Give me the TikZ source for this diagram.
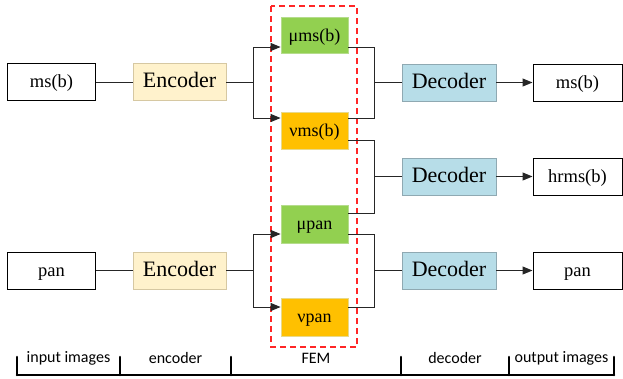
\documentclass[tikz,border=0pt]{standalone}
\usepackage{fontspec}
\setmainfont{Liberation Serif}
\newfontfamily\labfont{Carlito}
\usetikzlibrary{calc,arrows.meta}
\definecolor{encfill}{HTML}{FFF2CC}
\definecolor{encdraw}{HTML}{D6C8A2}
\definecolor{decfill}{HTML}{B7DDE8}
\definecolor{decdraw}{HTML}{8FA9B2}
\definecolor{mufill}{HTML}{92D050}
\definecolor{mudraw}{HTML}{B5DC8C}
\definecolor{nufill}{HTML}{FFC000}
\definecolor{nudraw}{HTML}{E8D98A}
\begin{document}
\begin{tikzpicture}[x=1pt,y=-1pt,
  txt/.style={inner sep=0pt,text height=14pt,text depth=3pt},
  imgbox/.style={txt,draw=black,line width=1pt,fill=white,minimum width=88pt,minimum height=37pt,font=\fontsize{18.5}{20}\selectfont},
  encbox/.style={txt,draw=encdraw,line width=0.8pt,fill=encfill,minimum width=93pt,minimum height=37pt,font=\fontsize{22}{24}\selectfont},
  decbox/.style={txt,draw=decdraw,line width=0.8pt,fill=decfill,minimum width=94pt,minimum height=37pt,font=\fontsize{22}{24}\selectfont},
  mubox/.style={txt,draw=mudraw,line width=0.8pt,fill=mufill,minimum width=67pt,minimum height=36pt,font=\fontsize{18}{20}\selectfont},
  nubox/.style={txt,draw=nudraw,line width=0.8pt,fill=nufill,minimum width=67pt,minimum height=37pt,font=\fontsize{18}{20}\selectfont},
  conn/.style={line width=1pt,draw=black!85},
  arr/.style={conn,-{Triangle[length=10pt,width=8pt]}},
  fem/.style={draw=red!85,line width=1.2pt,dash pattern=on 6pt off 4pt},
  barline/.style={line width=2.6pt,line cap=round},
  lab/.style={font=\labfont\fontsize{16}{18}\selectfont}
]
\useasboundingbox (0,0) rectangle (623,378);

% FEM frame
\draw[fem] (271,6) rectangle (357,347);

% nodes
\node[imgbox] (in1) at (51.5,82) {ms(b)};
\node[encbox] (enc1) at (179.5,82) {Encoder};
\node[imgbox] (in2) at (51.5,270.5) {pan};
\node[encbox] (enc2) at (179.5,270.5) {Encoder};

\node[mubox] (mu1) at (314.5,35.5) {μms(b)};
\node[nubox] (nu1) at (314.5,130.5) {νms(b)};
\node[mubox,minimum height=38pt] (mu2) at (314.5,224) {μpan};
\node[nubox,minimum height=38pt] (nu2) at (314.5,317) {νpan};

\node[decbox] (dec1) at (449,82.5) {Decoder};
\node[decbox] (dec2) at (449,176.5) {Decoder};
\node[decbox] (dec3) at (449,270.5) {Decoder};

\node[imgbox,minimum width=89pt] (out1) at (577.5,82.5) {ms(b)};
\node[imgbox,minimum width=89pt] (out2) at (577.5,176.5) {hrms(b)};
\node[imgbox,minimum width=89pt] (out3) at (577.5,270.5) {pan};

% junction coordinates
\coordinate (j1) at (253,82);
\coordinate (j2) at (253,270.5);
\coordinate (k1) at (374,82.5);
\coordinate (k2) at (374,176.5);
\coordinate (k3) at (374,270.5);

% left connectors
\draw[conn] (in1) -- (enc1);
\draw[conn] (in2) -- (enc2);
\draw[conn] (enc1.east) -- (j1);
\draw[conn] (enc2.east) -- (j2);
\draw[arr] (j1) |- ($(mu1.west)+(0,11.5)$);
\draw[arr] (j1) |- ($(nu1.west)+(0,-12.5)$);
\draw[arr] (j2) |- ($(mu2.west)+(0,10)$);
\draw[arr] (j2) |- ($(nu2.west)+(0,-10)$);

% right connectors
\draw[conn] ($(mu1.east)+(0,11.5)$) -| (k1);
\draw[conn] ($(nu1.east)+(0,-12.5)$) -| (k1);
\draw[conn] (k1) -- (dec1.west);
\draw[conn] ($(nu1.east)+(0,9.5)$) -| (k2);
\draw[conn] ($(mu2.east)+(0,-11)$) -| (k2);
\draw[conn] (k2) -- (dec2.west);
\draw[conn] ($(mu2.east)+(0,10)$) -| (k3);
\draw[conn] ($(nu2.east)+(0,-10)$) -| (k3);
\draw[conn] (k3) -- (dec3.west);

\draw[arr] (dec1) -- (out1);
\draw[arr] (dec2) -- (out2);
\draw[arr] (dec3) -- (out3);

% bottom bar
\coordinate (b0) at (17,375);
\coordinate (b1) at (120,375);
\coordinate (b2) at (231,375);
\coordinate (b3) at (401,375);
\coordinate (b4) at (509,375);
\coordinate (b5) at (614,375);
\draw[barline] (b0) -- (b5);
\foreach \b in {b0,b1,b2,b3,b4,b5}{
  \draw[barline] (\b) -- ++(0,-18);
}
\node[lab] (l1) at (68.5,358) {input images};
\node[lab] (l2) at (175.5,358) {encoder};
\node[lab] (l3) at (316,358) {FEM};
\node[lab] (l4) at (455,358) {decoder};
\node[lab] (l5) at (561.5,358) {output images};
\end{tikzpicture}
\end{document}
